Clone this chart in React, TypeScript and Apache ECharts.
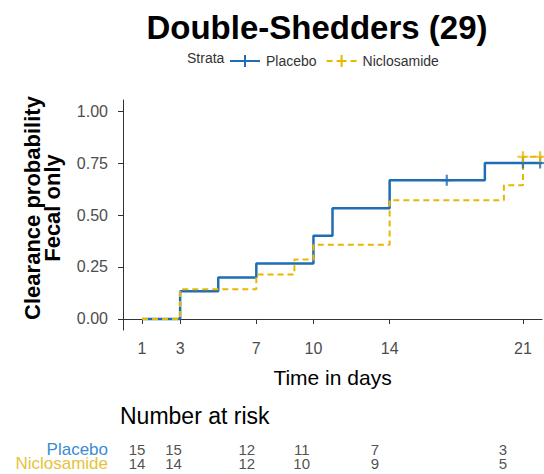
import React, { useEffect, useRef } from "react";
import * as echarts from "echarts";

const titleText = "Double-Shedders (29)";
const groups = ["Placebo", "Niclosamide"];
const xTicks = [1, 3, 7, 10, 14, 21];
const yTicks = [0, 0.25, 0.5, 0.75, 1.0];

const placeboTimes = [1, 3, 5, 7, 10, 11, 14, 19, 22];
const placeboSurv = [0, 0.133, 0.2, 0.267, 0.4, 0.533, 0.667, 0.75, 0.75];
const nicloTimes = [1, 3, 7, 9, 10, 14, 20, 21, 22];
const nicloSurv = [0, 0.143, 0.214, 0.286, 0.357, 0.571, 0.643, 0.78, 0.78];

const placeboCensorTimes = [17, 21, 21.9];
const placeboCensorSurv = [0.667, 0.75, 0.75];
const nicloCensorTimes = [21, 21.9];
const nicloCensorSurv = [0.78, 0.78];

const riskDays = [1, 3, 7, 10, 14, 21];
const atRiskPlacebo = [15, 15, 12, 11, 7, 3];
const atRiskNiclo = [14, 14, 12, 10, 9, 5];

const BLUE = "#1F6DB4";
const YELLOW = "#E7B800";
const FONT = "Liberation Sans, Arial, sans-serif";

const PLUS = "path://M4,0H6V4H10V6H6V10H4V6H0V4H4Z";
const ICON_SOLID = "path://M0,5H30V7H0Z M14,0H16V12H14Z";
const ICON_DASH = "path://M0,5H6V7H0Z M10,5H20V7H10Z M24,5H30V7H24Z M14,0H16V12H14Z";

const zip = (a: number[], b: number[]) => a.map((v, i) => [v, b[i]]);

export default function App() {
  const ref = useRef<HTMLDivElement>(null);
  useEffect(() => {
    if (!ref.current) return;
    const chart = echarts.init(ref.current, null, { renderer: "svg" });
    const riskLabel = {
      show: true,
      position: "inside",
      formatter: (p: any) => String(p.value[2]),
      fontSize: 15,
      lineHeight: 13,
      color: "#222",
      fontFamily: FONT,
    };
    chart.setOption({
      animation: false,
      backgroundColor: "#fff",
      textStyle: { fontFamily: FONT },
      title: {
        text: titleText,
        left: 312,
        top: 6,
        textAlign: "center",
        textStyle: { fontSize: 33, fontWeight: "bold", color: "#000", fontFamily: FONT },
      },
      legend: {
        left: 225,
        top: 49,
        itemWidth: 32,
        itemHeight: 12,
        itemGap: 10,
        textStyle: { fontSize: 14, color: "#333", fontFamily: FONT },
        data: [
          { name: groups[0], icon: ICON_SOLID },
          { name: groups[1], icon: ICON_DASH },
        ],
      },
      graphic: [
        {
          type: "text",
          left: 187,
          top: 51,
          style: { text: "Strata", fontSize: 14, fill: "#333", fontFamily: FONT },
        },
        {
          type: "text",
          x: 42,
          y: 208,
          rotation: Math.PI / 2,
          style: {
            text: "Clearance probability\nFecal only",
            fontSize: 22,
            fontWeight: "bold",
            lineHeight: 20,
            fill: "#000",
            align: "center",
            verticalAlign: "middle",
            fontFamily: FONT,
          },
        },
        {
          type: "text",
          left: 120,
          top: 404,
          style: { text: "Number at risk", fontSize: 23, fill: "#000", fontFamily: FONT },
        },
      ],
      grid: [
        { left: 123, right: 2, top: 100, bottom: 144 },
        { left: 137, right: 41, top: 442, height: 29 },
      ],
      xAxis: [
        {
          type: "value",
          gridIndex: 0,
          min: 0,
          max: 22,
          name: "Time in days",
          nameLocation: "middle",
          nameGap: 37,
          nameTextStyle: { fontSize: 21, color: "#000", fontFamily: FONT },
          axisLine: { lineStyle: { color: "#333", width: 1 } },
          axisTick: { show: true, length: 5, customValues: xTicks, lineStyle: { color: "#333" } },
          axisLabel: { customValues: xTicks, fontSize: 16, color: "#4d4d4d", margin: 10, fontFamily: FONT },
          splitLine: { show: false },
        },
        {
          type: "value",
          gridIndex: 1,
          min: 1,
          max: 21,
          show: false,
        },
      ],
      yAxis: [
        {
          type: "value",
          gridIndex: 0,
          min: -0.053,
          max: 1.053,
          axisLine: { show: true, lineStyle: { color: "#333", width: 1 } },
          axisTick: { show: true, length: 5, customValues: yTicks, lineStyle: { color: "#333" } },
          axisLabel: {
            customValues: yTicks,
            fontSize: 16,
            color: "#4d4d4d",
            margin: 15,
            fontFamily: FONT,
            formatter: (v: number) => v.toFixed(2),
          },
          splitLine: { show: false },
        },
        {
          type: "category",
          gridIndex: 1,
          data: [groups[1], groups[0]],
          axisLine: { show: false },
          axisTick: { show: false },
          axisLabel: {
            interval: 0,
            fontSize: 17,
            lineHeight: 13,
            margin: 29,
            fontFamily: FONT,
            color: (v: string) => (v === groups[0] ? "#3C8CD2" : "#E5C33C"),
          },
        },
      ],
      series: [
        {
          name: groups[0],
          type: "line",
          xAxisIndex: 0,
          yAxisIndex: 0,
          step: "end",
          symbol: "none",
          data: zip(placeboTimes, placeboSurv),
          itemStyle: { color: BLUE },
          lineStyle: { color: BLUE, width: 2.5 },
          z: 2,
        },
        {
          name: groups[1],
          type: "line",
          xAxisIndex: 0,
          yAxisIndex: 0,
          step: "end",
          symbol: "none",
          data: zip(nicloTimes, nicloSurv),
          itemStyle: { color: YELLOW },
          lineStyle: { color: YELLOW, width: 2, type: [6, 4] },
          z: 3,
        },
        {
          name: "Placebo censored",
          type: "scatter",
          xAxisIndex: 0,
          yAxisIndex: 0,
          symbol: PLUS,
          symbolSize: 11,
          data: zip(placeboCensorTimes, placeboCensorSurv),
          itemStyle: { color: BLUE },
          z: 4,
        },
        {
          name: "Niclosamide censored",
          type: "scatter",
          xAxisIndex: 0,
          yAxisIndex: 0,
          symbol: PLUS,
          symbolSize: 11,
          data: zip(nicloCensorTimes, nicloCensorSurv),
          itemStyle: { color: YELLOW },
          z: 4,
        },
        {
          name: "risk-placebo",
          type: "scatter",
          xAxisIndex: 1,
          yAxisIndex: 1,
          symbolSize: 1,
          itemStyle: { color: "rgba(0,0,0,0)" },
          data: riskDays.map((d, i) => [d, 1, atRiskPlacebo[i]]),
          label: riskLabel,
        },
        {
          name: "risk-niclo",
          type: "scatter",
          xAxisIndex: 1,
          yAxisIndex: 1,
          symbolSize: 1,
          itemStyle: { color: "rgba(0,0,0,0)" },
          data: riskDays.map((d, i) => [d, 0, atRiskNiclo[i]]),
          label: riskLabel,
        },
      ],
    });
    return () => chart.dispose();
  }, []);
  return (
    <div
      ref={ref}
      style={{ position: "absolute", left: 0, top: 0, width: 544, height: 474 }}
    />
  );
}
